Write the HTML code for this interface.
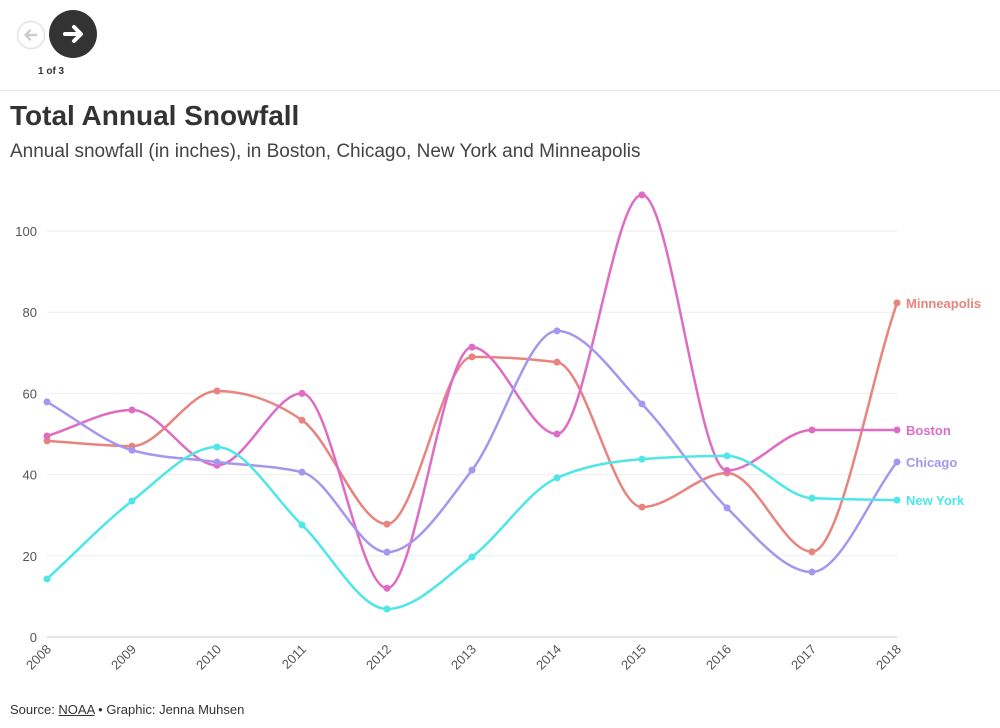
<!DOCTYPE html>
<html><head><meta charset="utf-8"><style>
body{margin:0;width:1000px;height:728px;background:#fff;font-family:"Liberation Sans",sans-serif;overflow:hidden;position:relative}
.t{position:absolute;white-space:nowrap}
</style></head><body>
<svg class="t" style="left:16px;top:20px" width="30" height="30"><circle cx="15" cy="15" r="13.5" fill="#fff" stroke="#e3e3e3" stroke-width="1.5"/><path d="M20 15H10M14 10.5L9.5 15L14 19.5" stroke="#ccc" stroke-width="2.5" fill="none" stroke-linecap="round" stroke-linejoin="round"/></svg>
<svg class="t" style="left:49px;top:10px" width="48" height="48"><circle cx="24" cy="24" r="24" fill="#333"/><path d="M16 24H31M25 17L32 24L25 31" stroke="#fff" stroke-width="4" fill="none" stroke-linecap="round" stroke-linejoin="round"/></svg>
<div class="t" style="left:38px;top:66px;font-size:10px;font-weight:bold;color:#333">1 of 3</div>
<div class="t" style="left:0;top:90px;width:1000px;height:1px;background:#e8e8e8"></div>
<div class="t" style="left:10px;top:100px;font-size:28px;font-weight:bold;color:#333">Total Annual Snowfall</div>
<div class="t" style="left:10px;top:141px;font-size:19px;color:#444">Annual snowfall (in inches), in Boston, Chicago, New York and Minneapolis</div>
<svg id="chart" class="t" style="left:0;top:0" width="1000" height="728"></svg>
<div class="t" style="left:10px;top:702px;font-size:13px;color:#333">Source: <span style="text-decoration:underline">NOAA</span> • Graphic: Jenna Muhsen</div>
<script>
const years=[2008,2009,2010,2011,2012,2013,2014,2015,2016,2017,2018];
const yTicks=[0,20,40,60,80,100];
const boston=[49.5,55.9,42.3,60,12,71.4,50,108.9,41,51,51];
const minneapolis=[48.3,47,60.6,53.4,27.8,69,67.7,32,40.4,21,82.3];
const chicago=[57.9,46,43.1,40.6,20.9,41.1,75.4,57.4,31.8,16,43.1];
const newYork=[14.3,33.5,46.8,27.6,6.9,19.7,39.2,43.8,44.6,34.2,33.7];
const seriesNames=["Minneapolis","Boston","Chicago","New York"];
const seriesData=[minneapolis,boston,chicago,newYork];
const colors=["#e8837e","#df6cc4","#a796ee","#4fe6e8"];
const NS="http://www.w3.org/2000/svg",svg=document.getElementById("chart");
const x=i=>47+(897-47)*(years[i]-years[0])/(years[years.length-1]-years[0]);
const y=v=>637-v*4.06;
function mk(t,a,p){const e=document.createElementNS(NS,t);for(const k in a)e.setAttribute(k,a[k]);(p||svg).appendChild(e);return e;}
yTicks.forEach(v=>{
 const g=mk("line",{x1:47,x2:897,y1:y(v),y2:y(v),stroke:v===0?"#ccc":"#eee","stroke-width":1});
 
 
 const t=mk("text",{x:37,y:y(v)+5,"text-anchor":"end","font-size":13,fill:"#555"});t.textContent=v;
 
 
});
years.forEach((yr,i)=>{
 const t=mk("text",{transform:`translate(${x(i)+5},${650}) rotate(-45)`,"text-anchor":"end","font-size":13,fill:"#555"});t.textContent=yr;
 
 
});
function path(vals){
 const P=vals.map((v,i)=>[x(i),y(v)]),n=P.length;
 const s=[],m=[];
 for(let i=0;i<n-1;i++)s.push((P[i+1][1]-P[i][1])/(P[i+1][0]-P[i][0]));
 for(let i=0;i<n;i++){
  if(i===0)m.push(s[0]);else if(i===n-1)m.push(s[n-2]);
  else{const a=s[i-1],b=s[i];if(a*b<=0)m.push(0);else{const h0=P[i][0]-P[i-1][0],h1=P[i+1][0]-P[i][0],p=(a*h1+b*h0)/(h0+h1);m.push((Math.sign(a)+Math.sign(b))*Math.min(Math.abs(a),Math.abs(b),0.5*Math.abs(p)));}}
 }
 let d="M"+P[0];
 for(let i=0;i<n-1;i++){
  const h=(P[i+1][0]-P[i][0])/3;
  d+="C"+[P[i][0]+h,P[i][1]+h*m[i]]+" "+[P[i+1][0]-h,P[i+1][1]-h*m[i+1]]+" "+P[i+1];
 }return d;
}
seriesData.forEach((vals,s)=>{
 const l=mk("path",{d:path(vals),fill:"none",stroke:colors[s],"stroke-width":2.5});
 
 
 vals.forEach((v,i)=>{
  const c=mk("circle",{cx:x(i),cy:y(v),r:3.5,fill:colors[s]});
  
  
 });
 const t=mk("text",{x:906,y:y(vals[vals.length-1])+5,"font-size":13,"font-weight":"bold",fill:colors[s]});t.textContent=seriesNames[s];
 
 
});
</script>
</body></html>
